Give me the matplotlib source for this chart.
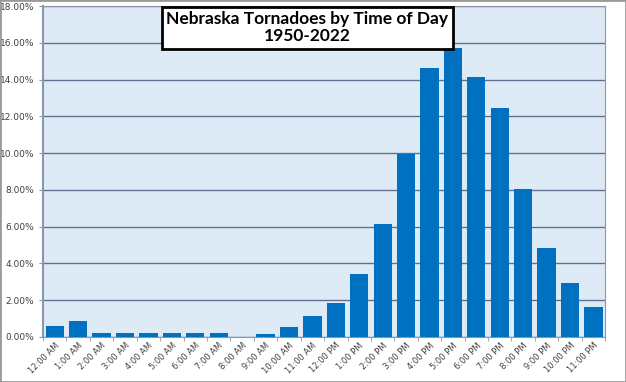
import matplotlib.pyplot as plt
from matplotlib.patches import Rectangle
from matplotlib.ticker import FuncFormatter, MultipleLocator
import numpy as np

hours = ["12:00 AM", "1:00 AM", "2:00 AM", "3:00 AM", "4:00 AM", "5:00 AM",
         "6:00 AM", "7:00 AM", "8:00 AM", "9:00 AM", "10:00 AM", "11:00 AM",
         "12:00 PM", "1:00 PM", "2:00 PM", "3:00 PM", "4:00 PM", "5:00 PM",
         "6:00 PM", "7:00 PM", "8:00 PM", "9:00 PM", "10:00 PM", "11:00 PM"]
pct = [0.62, 0.88, 0.24, 0.22, 0.24, 0.24, 0.19, 0.19, 0.02, 0.15, 0.55, 1.12,
       1.82, 3.40, 6.15, 9.95, 14.65, 15.72, 14.15, 12.45, 8.05, 4.82, 2.95, 1.62]

fig = plt.figure(figsize=(6.26, 3.82), dpi=100)
ax = fig.add_axes([0.0687, 0.118, 0.898, 0.866])
ax.set_facecolor("#deebf7")

x = np.arange(len(hours))
ax.bar(x, pct, width=0.78, color="#0070c0", zorder=3)

ax.set_xlim(-0.5, len(hours) - 0.5)
ax.set_ylim(0, 18)
ax.yaxis.set_major_locator(MultipleLocator(2))
ax.yaxis.set_major_formatter(FuncFormatter(lambda v, p: "%.2f%%" % v))
ax.grid(axis="y", color="#5f7390", lw=1, zorder=1)
ax.set_xticks(x)
ax.set_xticklabels(hours, rotation=45, ha="right", rotation_mode="anchor",
                   fontsize=6, color="#404040")
ax.tick_params(axis="x", length=0, pad=3)
ax.set_xticks(np.arange(-0.5, len(hours)), minor=True)
ax.tick_params(axis="x", which="minor", length=3, color="#8a98aa")
ax.tick_params(axis="y", labelsize=6.5, labelcolor="#404040", length=3,
               color="#8a98aa")
for s in ax.spines.values():
    s.set_color("#8a98aa")
ax.spines["left"].set_linewidth(1.5)

ax.text(0.47, 0.985, "Nebraska Tornadoes by Time of Day\n1950-2022",
        transform=ax.transAxes, ha="center", va="top", fontsize=12.5,
        fontweight="bold", family="Lato", linespacing=1.1, zorder=5,
        bbox=dict(boxstyle="square,pad=0.25", fc="white", ec="black", lw=2))

fig.patches.append(Rectangle((0, 0), 1, 1, transform=fig.transFigure,
                             fill=False, ec="#9a9a9a", lw=2))
fig.savefig("out.png", dpi=100)
